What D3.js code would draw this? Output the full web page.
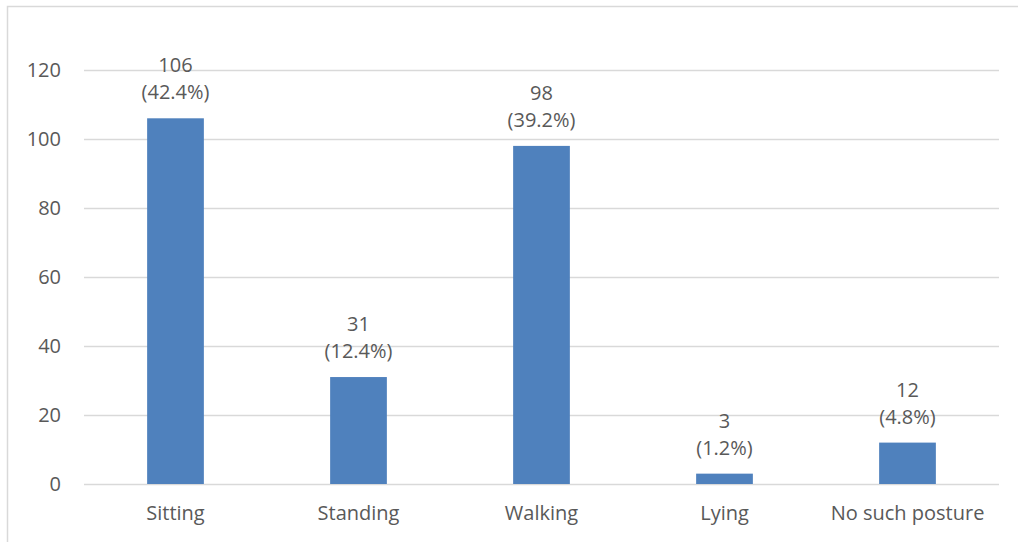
<!DOCTYPE html>
<html>
<head>
<meta charset="utf-8">
<script src="https://cdn.jsdelivr.net/npm/d3@7"></script>
<style>
  body { margin: 0; background: #fff; }
  svg { display: block; }
  text { font-family: "Open Sans", sans-serif; fill: #595959; }
</style>
</head>
<body>
<div id="chart"></div>
<script>
  const categories = ['Sitting', 'Standing', 'Walking', 'Lying', 'No such posture']
  const counts = [106, 31, 98, 3, 12]
  const percents = ['42.4%', '12.4%', '39.2%', '1.2%', '4.8%']
  const yTicks = [0, 20, 40, 60, 80, 100, 120]

  const width = 1018
  const height = 542
  const margin = { top: 70, right: 19, bottom: 58, left: 84 }

  const svg = d3.select('#chart')
    .append('svg')
    .attr('width', width)
    .attr('height', height)

  // outer chart border (runs past the right / bottom edges like the source)
  svg.append('rect')
    .attr('x', 7.5)
    .attr('y', 6.5)
    .attr('width', width + 20)
    .attr('height', height + 20)
    .attr('fill', 'none')
    .attr('stroke', '#d9d9d9')
    .attr('stroke-width', 1.5)

  const x = d3.scaleBand()
    .domain(categories)
    .range([margin.left, width - margin.right])
    .paddingInner(0.69)
    .paddingOuter(0.345)

  const y = d3.scaleLinear()
    .domain([0, 120])
    .range([height - margin.bottom, margin.top])

  // gridlines
  svg.append('g')
    .selectAll('line')
    .data(yTicks)
    .enter()
    .append('line')
    .attr('x1', margin.left)
    .attr('x2', width - margin.right)
    .attr('y1', function (d) { return Math.round(y(d)) + 0.5 })
    .attr('y2', function (d) { return Math.round(y(d)) + 0.5 })
    .attr('stroke', '#d9d9d9')
    .attr('stroke-width', 1.5)

  // y axis labels
  const yAxis = d3.axisLeft(y).tickValues(yTicks).tickSize(0).tickPadding(23)
  const yg = svg.append('g')
    .attr('transform', 'translate(' + margin.left + ',0)')
    .call(yAxis)
  yg.select('.domain').remove()
  yg.selectAll('text')
    .style('font-family', '"Open Sans", sans-serif')
    .style('font-size', '20px')
    .attr('fill', '#595959')

  // bars
  svg.append('g')
    .selectAll('rect')
    .data(counts)
    .enter()
    .append('rect')
    .attr('x', function (d, i) { return x(categories[i]) })
    .attr('y', function (d) { return y(d) })
    .attr('width', x.bandwidth())
    .attr('height', function (d) { return y(0) - y(d) })
    .attr('fill', '#4f81bd')

  // value labels
  const labels = svg.append('g')
    .selectAll('text')
    .data(counts)
    .enter()
    .append('text')
    .attr('text-anchor', 'middle')
    .style('font-size', '20px')
    .attr('x', function (d, i) { return x(categories[i]) + x.bandwidth() / 2 })
    .attr('y', function (d) { return y(d) - 46 })

  labels.append('tspan')
    .attr('x', function (d, i) { return x(categories[i]) + x.bandwidth() / 2 })
    .text(function (d) { return d })

  labels.append('tspan')
    .attr('x', function (d, i) { return x(categories[i]) + x.bandwidth() / 2 })
    .attr('dy', 27)
    .text(function (d, i) { return '(' + percents[i] + ')' })

  // category labels
  const xAxis = d3.axisBottom(x).tickSize(0).tickPadding(22)
  const xg = svg.append('g')
    .attr('transform', 'translate(0,' + y(0) + ')')
    .call(xAxis)
  xg.select('.domain').remove()
  xg.selectAll('text')
    .style('font-family', '"Open Sans", sans-serif')
    .style('font-size', '20px')
    .attr('fill', '#595959')
</script>
</body>
</html>
